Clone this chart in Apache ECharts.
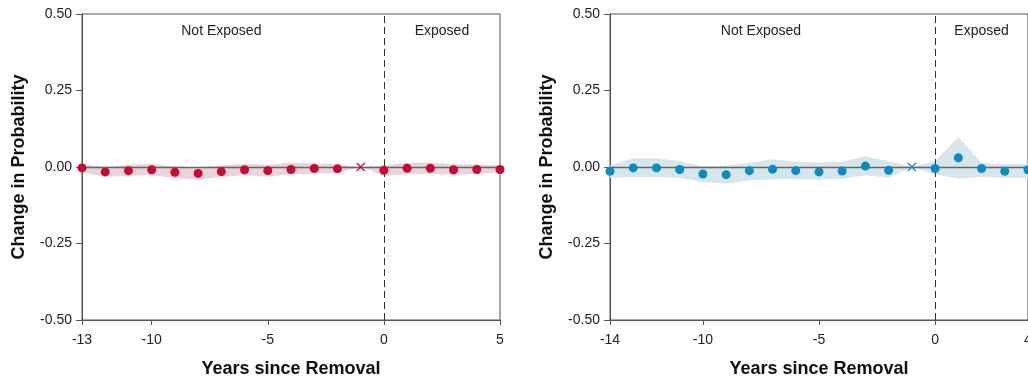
<!DOCTYPE html>
<html>
<head>
<meta charset="utf-8">
<script src="https://cdn.jsdelivr.net/npm/echarts@6/dist/echarts.min.js"></script>
<style>
  html, body { margin: 0; padding: 0; overflow: hidden; background: #fff; }
  #main { width: 1040px; height: 379px; }
</style>
</head>
<body>
<div id="main"></div>
<script>
// event-study estimates, reference year -1 is normalised to 0
let refYear = -1;

let leftYears = [-13, -12, -11, -10, -9, -8, -7, -6, -5, -4, -3, -2, -1, 0, 1, 2, 3, 4, 5];
let leftEst = [-0.003, -0.016, -0.012, -0.009, -0.017, -0.021, -0.015, -0.009, -0.012, -0.008, -0.005, -0.006, 0, -0.011, -0.004, -0.004, -0.009, -0.008, -0.008];
let leftLo = [-0.016, -0.033, -0.029, -0.026, -0.037, -0.041, -0.033, -0.026, -0.031, -0.024, -0.022, -0.020, 0, -0.028, -0.024, -0.022, -0.026, -0.022, -0.020];
let leftHi = [0.010, 0.000, 0.008, 0.010, 0.002, -0.002, 0.005, 0.011, 0.007, 0.014, 0.012, 0.009, 0, 0.005, 0.014, 0.015, 0.009, 0.008, 0.005];
let leftTicks = [-13, -10, -5, 0, 5];

let rightYears = [-14, -13, -12, -11, -10, -9, -8, -7, -6, -5, -4, -3, -2, -1, 0, 1, 2, 3, 4];
let rightEst = [-0.014, -0.003, -0.003, -0.008, -0.023, -0.025, -0.012, -0.007, -0.012, -0.016, -0.013, 0.003, -0.011, 0, -0.005, 0.030, -0.005, -0.014, -0.009];
let rightLo = [-0.035, -0.033, -0.033, -0.035, -0.049, -0.054, -0.044, -0.040, -0.040, -0.041, -0.038, -0.027, -0.035, 0, -0.024, -0.038, -0.033, -0.035, -0.035];
let rightHi = [0.005, 0.029, 0.029, 0.020, 0.002, 0.005, 0.013, 0.025, 0.017, 0.014, 0.017, 0.035, 0.019, 0, 0.020, 0.098, 0.013, 0.009, 0.011];
let rightTicks = [-14, -10, -5, 0, 4];

let yTicks = [-0.5, -0.25, 0, 0.25, 0.5];

let dom = document.getElementById("main");
let myChart = echarts.init(dom, null, { renderer: "canvas" });

const crossPath = "path://M0,1L1,0L5,4L9,0L10,1L6,5L10,9L9,10L5,6L1,10L0,9L4,5Z";
const textFont = "Liberation Sans, Arial, sans-serif";

function xAxisFor(idx, years, ticks) {
    return {
        type: "value",
        gridIndex: idx,
        min: years[0],
        max: years[years.length - 1],
        name: "Years since Removal",
        nameLocation: "middle",
        nameGap: 40,
        nameTextStyle: { fontSize: 18, fontWeight: "bold", color: "#111", fontFamily: textFont },
        splitLine: { show: false },
        axisLine: { onZero: false, lineStyle: { color: "#555" } },
        axisTick: { customValues: ticks, length: 5, lineStyle: { color: "#555" } },
        axisLabel: { customValues: ticks, fontSize: 14, color: "#222", margin: 13, fontFamily: textFont },
    };
}

function yAxisFor(idx) {
    return {
        type: "value",
        gridIndex: idx,
        min: yTicks[0],
        max: yTicks[yTicks.length - 1],
        interval: 0.25,
        name: "Change in Probability",
        nameLocation: "middle",
        nameGap: 54,
        nameTextStyle: { fontSize: 18, fontWeight: "bold", color: "#111", fontFamily: textFont },
        splitLine: { show: false },
        axisLine: { show: true, onZero: false, lineStyle: { color: "#555" } },
        axisTick: { show: true, length: 6, lineStyle: { color: "#555" } },
        axisLabel: {
            fontSize: 14, color: "#222", margin: 10, fontFamily: textFont,
            formatter: (v) => v.toFixed(2),
        },
    };
}

function panelSeries(idx, years, est, lo, hi, dotColor, bandColor, labels) {
    let bandData = years.map((y, i) => [y, lo[i], hi[i]]);
    let dots = years.map((y, i) => [y, est[i]]).filter((d) => d[0] !== refYear);
    let refPt = years.map((y, i) => [y, est[i]]).filter((d) => d[0] === refYear);
    return [
        {
            // confidence band drawn as one polygon through the axis scales
            type: "custom", xAxisIndex: idx, yAxisIndex: idx,
            data: bandData, silent: true, z: 1, clip: true,
            renderItem: function (params, api) {
                if (params.dataIndex !== 0) return null;
                let upper = bandData.map((d) => api.coord([d[0], d[2]]));
                let lower = bandData.map((d) => api.coord([d[0], d[1]])).reverse();
                return {
                    type: "polygon",
                    shape: { points: upper.concat(lower) },
                    style: { fill: bandColor },
                };
            },
        },
        {
            type: "scatter", xAxisIndex: idx, yAxisIndex: idx,
            data: dots, symbolSize: 9, itemStyle: { color: dotColor, opacity: 1 }, z: 5,
            markLine: {
                silent: true, symbol: "none", label: { show: false },
                lineStyle: { type: [7, 4], color: "#333", width: 1 },
                data: [
                    { yAxis: 0, lineStyle: { color: "#666", type: "solid", width: 1.3 } },
                    { xAxis: 0, lineStyle: { color: "#333", type: [7, 4], width: 1 } },
                ],
            },
            markPoint: {
                symbol: "circle", symbolSize: 0, silent: true,
                label: { show: true, position: "inside", fontSize: 14, color: "#222", fontFamily: textFont },
                data: labels.map((l) => ({ coord: [l.x, 0.445], value: l.text, label: { formatter: l.text } })),
            },
        },
        {
            type: "scatter", xAxisIndex: idx, yAxisIndex: idx,
            data: refPt, symbol: crossPath, symbolSize: 9, itemStyle: { color: dotColor, opacity: 1 }, z: 5,
        },
    ];
}

let gridBase = {
    top: 14, width: 418, height: 306, show: true,
    borderColor: "#555", borderWidth: 1, backgroundColor: "transparent",
    outerBoundsMode: "none", containLabel: false,
};

let option = {
    animation: false,
    grid: [
        Object.assign({ left: 82 }, gridBase),
        Object.assign({ left: 610 }, gridBase),
    ],
    xAxis: [xAxisFor(0, leftYears, leftTicks), xAxisFor(1, rightYears, rightTicks)],
    yAxis: [yAxisFor(0), yAxisFor(1)],
    series: [].concat(
        panelSeries(0, leftYears, leftEst, leftLo, leftHi, "#c60a34", "#ead3da",
            [{ x: -7, text: "Not Exposed" }, { x: 2.5, text: "Exposed" }]),
        panelSeries(1, rightYears, rightEst, rightLo, rightHi, "#0b8bc0", "#d5e6ec",
            [{ x: -7.5, text: "Not Exposed" }, { x: 2, text: "Exposed" }])
    ),
};

myChart.setOption(option);
window.addEventListener("resize", myChart.resize);
</script>
</body>
</html>
